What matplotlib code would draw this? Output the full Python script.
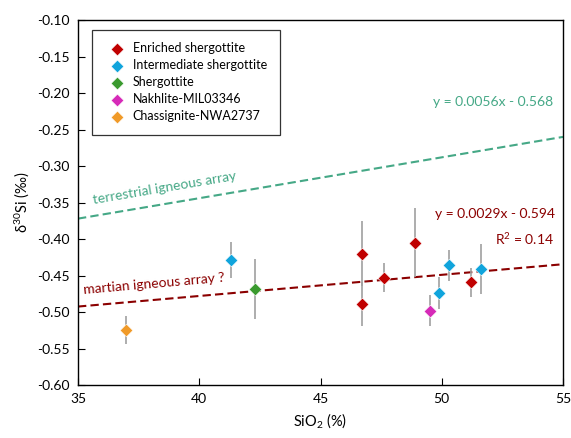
import matplotlib
matplotlib.use("Agg")
import matplotlib.pyplot as plt
import numpy as np

plt.rcParams['font.family'] = ['Lato', 'DejaVu Sans']
plt.rcParams['mathtext.fontset'] = 'custom'
plt.rcParams['mathtext.rm'] = 'Lato'
plt.rcParams['mathtext.it'] = 'Lato:italic'

# sample groups: SiO2 (%), d30Si (permil), 2SD
groups = ["Enriched shergottite", "Intermediate shergottite", "Shergottite",
          "Nakhlite-MIL03346", "Chassignite-NWA2737"]
colors = ["#C00000", "#10A4DC", "#3A9A2E", "#D62AB8", "#F09A28"]

enriched_x = [46.7, 46.7, 47.6, 48.9, 51.2]
enriched_y = [-0.420, -0.489, -0.453, -0.405, -0.459]
enriched_e = [0.045, 0.030, 0.020, 0.047, 0.020]

inter_x = [41.3, 49.9, 50.3, 51.6]
inter_y = [-0.429, -0.474, -0.436, -0.441]
inter_e = [0.025, 0.022, 0.021, 0.034]

sherg_x = [42.3]
sherg_y = [-0.469]
sherg_e = [0.041]

nakh_x = [49.5]
nakh_y = [-0.498]
nakh_e = [0.021]

chass_x = [37.0]
chass_y = [-0.525]
chass_e = [0.019]

# regression lines
terr_slope, terr_icpt = 0.0056, -0.568
mars_slope, mars_icpt = 0.0029, -0.594

fig = plt.figure(figsize=(5.71, 4.38), dpi=100)
ax = fig.add_axes([0.1366, 0.121, 0.8494, 0.833])

xl = np.array([35, 55])
ax.plot(xl, terr_slope * xl + terr_icpt, '--', color='#45A886', lw=1.5, dashes=(4, 2), zorder=1)
ax.plot(xl, mars_slope * xl + mars_icpt, '--', color='#8B0000', lw=1.5, dashes=(4, 2), zorder=1)

data = [(enriched_x, enriched_y, enriched_e), (inter_x, inter_y, inter_e),
        (sherg_x, sherg_y, sherg_e), (nakh_x, nakh_y, nakh_e),
        (chass_x, chass_y, chass_e)]
for (x, y, e), name, c in zip(data, groups, colors):
    ax.errorbar(x, y, yerr=e, fmt='none', ecolor='#A0A0A0', elinewidth=1.2, zorder=2)
    ax.scatter(x, y, marker='D', s=42, color=c, edgecolors='white', linewidths=0.4,
               label=name, zorder=3)

ax.text(54.6, -0.2125, "y = 0.0056x - 0.568", color='#45A886', fontsize=10,
        ha='right', va='center')
ax.text(54.65, -0.366, "y = 0.0029x - 0.594", color='#8B0000', fontsize=10,
        ha='right', va='center')
ax.text(54.65, -0.400, "R$^{2}$ = 0.14", color='#8B0000', fontsize=10,
        ha='right', va='center')
ax.text(38.55, -0.330, "terrestrial igneous array", color='#45A886', fontsize=10,
        rotation=9.6, ha='center', va='center', rotation_mode='anchor')
ax.text(38.15, -0.462, "martian igneous array ?", color='#8B0000', fontsize=10,
        rotation=5, ha='center', va='center', rotation_mode='anchor')

ax.set_xlim(35, 55)
ax.set_ylim(-0.60, -0.10)
ax.set_xticks([35, 40, 45, 50, 55])
ax.set_yticks(np.arange(-0.60, -0.099, 0.05))
ax.yaxis.set_major_formatter(matplotlib.ticker.FormatStrFormatter('%.2f'))
ax.tick_params(direction='in', length=5, labelsize=10, pad=6)
ax.set_xlabel("SiO$_{2}$ (%)", fontsize=10.5)
ax.set_ylabel("δ$^{30}$Si (‰)", fontsize=10.5)
for s in ax.spines.values():
    s.set_linewidth(1.0)

leg = ax.legend(loc='upper left', bbox_to_anchor=(0.028, 0.973), borderaxespad=0,
                fontsize=9, frameon=True, fancybox=False, edgecolor='black',
                handletextpad=0.3, borderpad=1.0, labelspacing=0.4, scatterpoints=1)
leg.get_frame().set_linewidth(0.9)

fig.savefig("out.png", dpi=100)
